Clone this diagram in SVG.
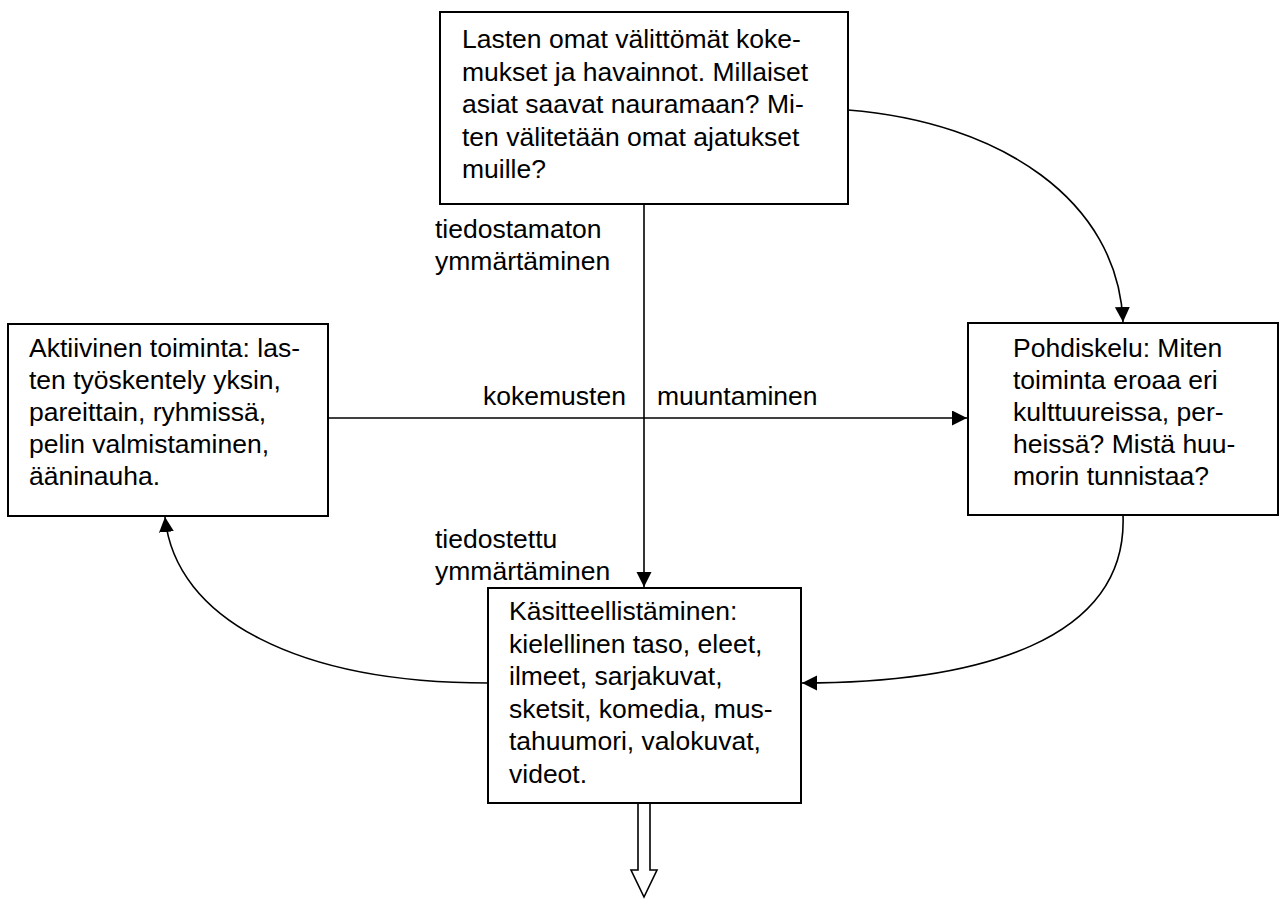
<svg xmlns="http://www.w3.org/2000/svg" width="1281" height="899" viewBox="0 0 1281 899">
<style>
.box{fill:#fff;stroke:#000;stroke-width:2}
.t{font-family:"Liberation Sans",Arial,sans-serif;font-size:26.5px;fill:#000}
.c{fill:none;stroke:#000;stroke-width:1.6}
</style>
<defs>
<marker id="ah" markerUnits="userSpaceOnUse" markerWidth="16" markerHeight="16" refX="15" refY="7.5" orient="auto">
<path d="M0,0 L15,7.5 L0,15 z" fill="#000"/>
</marker>
</defs>
<rect width="1281" height="899" fill="#fff"/>
<g id="connectors">
<path class="c" d="M644,204 L644,587" marker-end="url(#ah)"/>
<path class="c" d="M328,418 L967,418" marker-end="url(#ah)"/>
<path class="c" d="M848,110 C1000,122 1118,200 1123,322" marker-end="url(#ah)"/>
<path class="c" d="M1123,515 C1128,640 980,683 802,683" marker-end="url(#ah)"/>
<path class="c" d="M488,683 C300,683 175,620 165,517" marker-end="url(#ah)"/>
<path d="M638,803 L638,870 L631,870 L644,897 L657,870 L650,870 L650,803" fill="#fff" stroke="#000" stroke-width="1.6"/>
<g class="t">
<text x="435" y="238">tiedostamaton</text>
<text x="435" y="270">ymmärtäminen</text>
<text x="483" y="405">kokemusten</text>
<text x="657" y="405">muuntaminen</text>
<text x="435" y="548">tiedostettu</text>
<text x="435" y="580">ymmärtäminen</text>
</g>
</g>
<g id="top">
<rect class="box" x="440" y="12" width="408" height="192"/>
<g class="t">
<text x="462" y="48">Lasten omat välittömät koke-</text>
<text x="462" y="80.5">mukset ja havainnot. Millaiset</text>
<text x="462" y="113">asiat saavat nauramaan? Mi-</text>
<text x="462" y="145.5">ten välitetään omat ajatukset</text>
<text x="462" y="178">muille?</text>
</g>
</g>
<g id="left">
<rect class="box" x="8" y="324" width="320" height="192"/>
<g class="t">
<text x="29" y="357">Aktiivinen toiminta: las-</text>
<text x="29" y="389">ten työskentely yksin,</text>
<text x="29" y="421">pareittain, ryhmissä,</text>
<text x="29" y="453">pelin valmistaminen,</text>
<text x="29" y="485">ääninauha.</text>
</g>
</g>
<g id="right">
<rect class="box" x="968" y="323" width="310" height="192"/>
<g class="t">
<text x="1013" y="357">Pohdiskelu: Miten</text>
<text x="1013" y="389">toiminta eroaa eri</text>
<text x="1013" y="421">kulttuureissa, per-</text>
<text x="1013" y="453">heissä? Mistä huu-</text>
<text x="1013" y="485">morin tunnistaa?</text>
</g>
</g>
<g id="bottom">
<rect class="box" x="488" y="588" width="313" height="215"/>
<g class="t">
<text x="509" y="620">Käsitteellistäminen:</text>
<text x="509" y="652.5">kielellinen taso, eleet,</text>
<text x="509" y="685">ilmeet, sarjakuvat,</text>
<text x="509" y="717.5">sketsit, komedia, mus-</text>
<text x="509" y="750">tahuumori, valokuvat,</text>
<text x="509" y="782.5">videot.</text>
</g>
</g>
</svg>
